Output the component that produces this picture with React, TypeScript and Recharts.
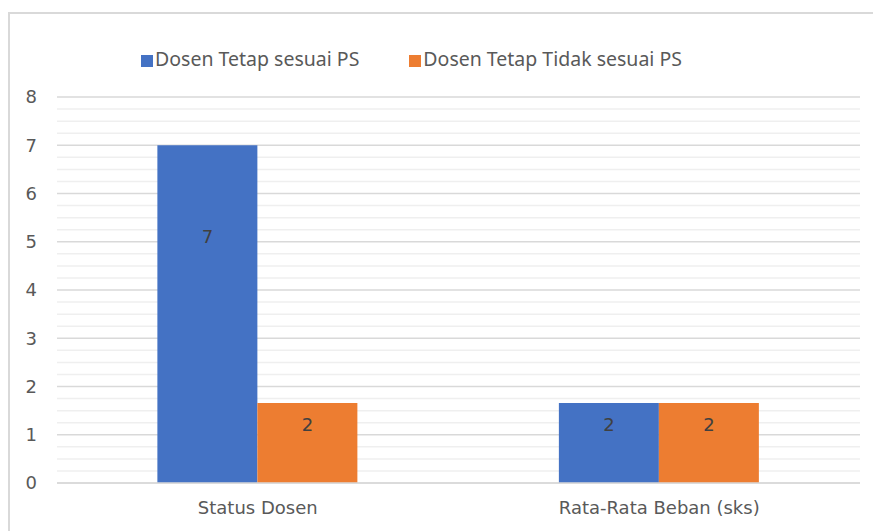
import React from "react";
import { BarChart, Bar, XAxis, YAxis, CartesianGrid, Legend, LabelList } from "recharts";

const categories = ["Status Dosen", "Rata-Rata Beban (sks)"];
const sesuaiPS = [7, 1.66];
const tidakSesuaiPS = [1.66, 1.66];
const yTicks = [0, 1, 2, 3, 4, 5, 6, 7, 8];
const minorTicks = [
  0.25, 0.5, 0.75, 1.25, 1.5, 1.75, 2.25, 2.5, 2.75, 3.25, 3.5, 3.75,
  4.25, 4.5, 4.75, 5.25, 5.5, 5.75, 6.25, 6.5, 6.75, 7.25, 7.5, 7.75,
];
const seriesNames = ["Dosen Tetap sesuai PS", "Dosen Tetap Tidak sesuai PS"];

const data = categories.map((c, i) => ({
  name: c,
  sesuai: sesuaiPS[i],
  tidak: tidakSesuaiPS[i],
}));

const FONT = "'Noto Sans', sans-serif";
const AXFONT = "'DejaVu Sans', sans-serif";
const TEXT = "#595959";

const renderLabel = (props: any) => {
  const { x, y, width, height, value } = props;
  return (
    <text
      x={x + width / 2}
      y={y + height * 0.27}
      textAnchor="middle"
      dominantBaseline="central"
      fill="#404040"
      fontSize={18}
      fontFamily={AXFONT}
    >
      {Math.round(value)}
    </text>
  );
};

export default function App() {
  return (
    <div style={{ position: "absolute", left: 0, top: 0, width: 873, height: 531, background: "#fff", overflow: "hidden" }}>
      <div
        style={{
          position: "absolute",
          left: 8,
          top: 12,
          right: 0,
          bottom: 0,
          borderTop: "2px solid #d9d9d9",
          borderLeft: "2px solid #d9d9d9",
        }}
      />
      <BarChart
        width={873}
        height={531}
        data={data}
        margin={{ top: 97, right: 13, bottom: 0, left: 10 }}
        barCategoryGap="25%"
        barGap={0}
        style={{ position: "absolute", left: 0, top: 0 }}
      >
        <CartesianGrid vertical={false} horizontalValues={minorTicks} stroke="#efefef" strokeWidth={1.5} />
        <CartesianGrid vertical={false} horizontalValues={yTicks} stroke="#d9d9d9" strokeWidth={1.5} />
        <XAxis
          dataKey="name"
          axisLine={{ stroke: "#d9d9d9", strokeWidth: 1.5 }}
          tickLine={false}
          tickSize={0}
          tickMargin={18}
          height={48}
          tick={{ fill: TEXT, fontSize: 18, fontFamily: AXFONT }}
        />
        <YAxis
          domain={[0, 8]}
          ticks={yTicks}
          interval={0}
          axisLine={false}
          tickLine={false}
          tickSize={0}
          tickMargin={20}
          width={47}
          tick={{ fill: TEXT, fontSize: 18, fontFamily: AXFONT }}
        />
        <Legend
          verticalAlign="middle"
          align="center"
          iconType="square"
          iconSize={12}
          itemSorter={(item: any) => seriesNames.indexOf(item.value)}
          wrapperStyle={{ top: 45, left: 0, width: 873, fontFamily: FONT, fontSize: 19.5, letterSpacing: 0 }}
          formatter={(v: string) => <span style={{ color: TEXT, marginRight: 40, marginLeft: -2 }}>{v}</span>}
        />
        <Bar dataKey="sesuai" name={seriesNames[0]} fill="#4472C4" isAnimationActive={false}>
          <LabelList dataKey="sesuai" content={renderLabel} />
        </Bar>
        <Bar dataKey="tidak" name={seriesNames[1]} fill="#ED7D31" isAnimationActive={false}>
          <LabelList dataKey="tidak" content={renderLabel} />
        </Bar>
      </BarChart>
    </div>
  );
}
